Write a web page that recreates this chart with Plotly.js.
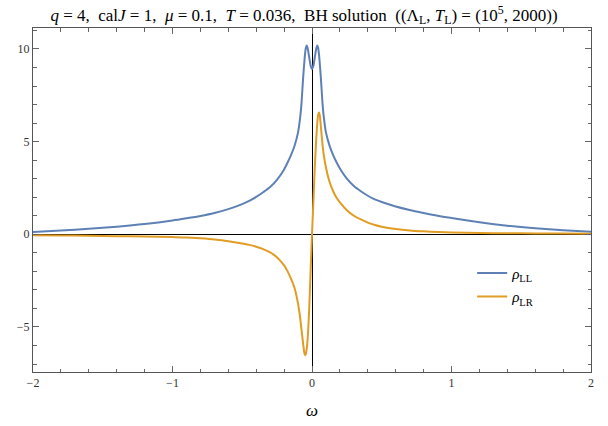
<!DOCTYPE html>
<html>
<head>
<meta charset="utf-8">
<script src="https://cdn.plot.ly/plotly-3.0.1.min.js"></script>
<style>html,body{margin:0;padding:0;background:#fff;}#chart{width:608px;height:426px;}</style>
</head>
<body>
<div id="chart"></div>
<script>
// frequency grid (omega)
var omega = [-2, -1.8, -1.6, -1.4, -1.2, -1.0, -0.9, -0.8, -0.7, -0.6, -0.5, -0.45, -0.4, -0.35, -0.3, -0.25, -0.2, -0.175, -0.15, -0.125, -0.1, -0.085, -0.076, -0.069, -0.062, -0.056, -0.05, -0.044, -0.038, -0.03, -0.02, -0.01, 0,
             0.01, 0.02, 0.03, 0.038, 0.044, 0.05, 0.056, 0.062, 0.069, 0.076, 0.085, 0.1, 0.125, 0.15, 0.175, 0.2, 0.25, 0.3, 0.35, 0.4, 0.45, 0.5, 0.6, 0.7, 0.8, 0.9, 1.0, 1.2, 1.4, 1.6, 1.8, 2];

// rho_LL values
var rhoLL = [0.12, 0.2, 0.3, 0.41, 0.55, 0.74, 0.86, 0.99, 1.15, 1.36, 1.63, 1.8, 2.02, 2.27, 2.55, 2.95, 3.5, 3.87, 4.28, 4.78, 5.5, 6.3, 7.0, 7.8, 8.6, 9.2, 9.72, 10.07, 10.18, 10.0, 9.55, 9.1, 8.92,
             9.1, 9.55, 10.0, 10.18, 10.07, 9.72, 9.2, 8.6, 7.8, 7.0, 6.3, 5.5, 4.8, 4.3, 3.9, 3.55, 3.0, 2.6, 2.32, 2.08, 1.88, 1.74, 1.5, 1.31, 1.15, 1.0, 0.88, 0.65, 0.46, 0.32, 0.22, 0.14];

// rho_LR values
var rhoLR = [-0.05, -0.065, -0.08, -0.1, -0.12, -0.15, -0.17, -0.22, -0.28, -0.37, -0.5, -0.57, -0.67, -0.8, -0.98, -1.25, -1.68, -2.0, -2.4, -2.9, -3.75, -4.5, -5.1, -5.55, -6.0, -6.35, -6.52, -6.45, -6.2, -5.5, -4.0, -2.0, 0,
             1.8, 3.6, 5.1, 6.0, 6.45, 6.57, 6.4, 5.95, 5.35, 4.8, 4.25, 3.6, 2.85, 2.35, 1.98, 1.72, 1.3, 1.0, 0.8, 0.63, 0.5, 0.41, 0.29, 0.21, 0.16, 0.12, 0.1, 0.07, 0.055, 0.045, 0.04, 0.035];

var xTickVals = [-2, -1, 0, 1, 2];
var yTickVals = [-5, 0, 5, 10];

var serif = "'Liberation Serif', 'DejaVu Serif', serif";

function fmt(v) { return v < 0 ? '\u2212' + Math.abs(v) : String(v); }

var traces = [
  {x: omega, y: rhoLL, type: 'scatter', mode: 'lines', name: '<i>ρ</i><sub>LL</sub>', legendgroup: 'a',
   line: {color: '#5E81B5', width: 2, shape: 'spline', smoothing: 0.7}},
  {x: omega, y: rhoLR, type: 'scatter', mode: 'lines', name: '<i>ρ</i><sub>LR</sub>', legendgroup: 'b',
   line: {color: '#E19C24', width: 2, shape: 'spline', smoothing: 0.7}}
];

var axisCommon = {
  showline: true, mirror: 'ticks', linecolor: '#555', linewidth: 1,
  ticks: 'inside', tickcolor: '#666', ticklen: 6, tickwidth: 1,
  showgrid: false, zeroline: true, zerolinecolor: '#000', zerolinewidth: 1,
  tickfont: {family: serif, size: 12, color: '#333'}
};

var layout = {
  width: 608, height: 426,
  margin: {l: 33, r: 17, t: 28, b: 54},
  paper_bgcolor: '#fff', plot_bgcolor: '#fff',
  font: {family: serif, color: '#000'},
  title: {
    text: '<i>q</i> = 4,\u00a0 cal<i>J</i> = 1,\u00a0 <i>μ</i> = 0.1,\u00a0 <i>T</i> = 0.036,\u00a0 BH solution\u00a0 ((Λ<sub>L</sub>, <i>T</i><sub>L</sub>) = (10<sup>5</sup>, 2000))',
    font: {family: serif, size: 17, color: '#000'},
    x: 0.5, xref: 'container', xanchor: 'center',
    y: 0.965, yref: 'container', yanchor: 'middle'
  },
  xaxis: Object.assign({}, axisCommon, {
    range: [-2, 2], tickvals: xTickVals, ticktext: xTickVals.map(fmt),
    minor: {ticks: 'inside', dtick: 0.2, ticklen: 3.5, tickcolor: '#666', showgrid: false},
    title: {text: '<i>ω</i>', font: {family: serif, size: 17, color: '#000'}, standoff: 14}
  }),
  yaxis: Object.assign({}, axisCommon, {
    range: [-7.43, 11.13], tickvals: yTickVals, ticktext: yTickVals.map(fmt),
    minor: {ticks: 'inside', dtick: 1, ticklen: 3.5, tickcolor: '#666', showgrid: false}
  }),
  showlegend: true,
  legend: {
    x: 0.787, y: 0.335, xanchor: 'left', yanchor: 'top',
    bgcolor: 'rgba(0,0,0,0)', borderwidth: 0, tracegroupgap: 1,
    font: {family: serif, size: 15, color: '#000'}
  }
};

Plotly.newPlot('chart', traces, layout, {displayModeBar: false, staticPlot: true});
</script>
</body>
</html>
